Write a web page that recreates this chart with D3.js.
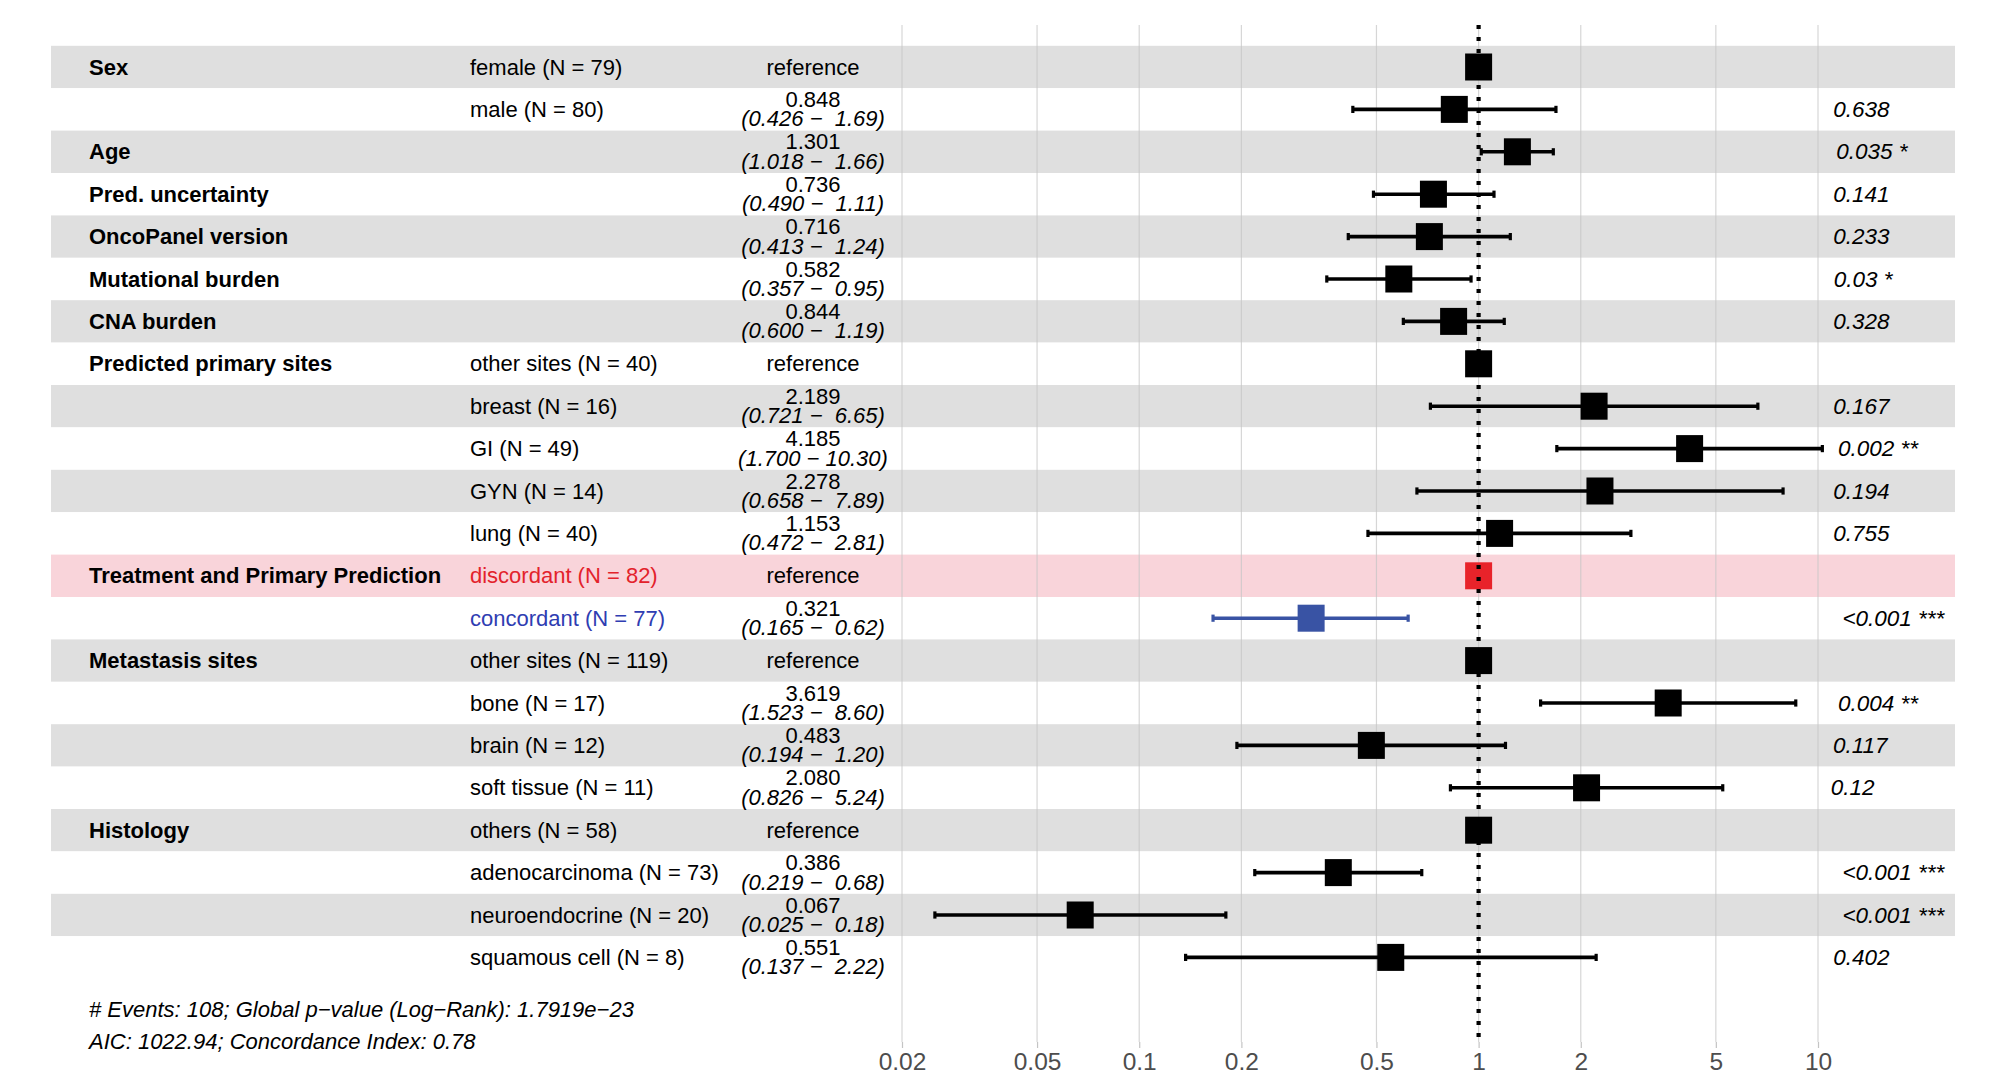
<!DOCTYPE html>
<html>
<head>
<meta charset="utf-8">
<script src="https://cdn.jsdelivr.net/npm/d3@7"></script>
<style>
  html, body { margin: 0; padding: 0; background: #ffffff; }
  svg text { font-family: "Liberation Sans", Arial, Helvetica, sans-serif; white-space: pre; }
</style>
</head>
<body>
<svg id="chart" width="1995" height="1076"></svg>
<script>
// Cox model hazard ratios, one entry per table row
const variables = ["Sex", "", "Age", "Pred. uncertainty", "OncoPanel version", "Mutational burden",
  "CNA burden", "Predicted primary sites", "", "", "", "", "Treatment and Primary Prediction", "",
  "Metastasis sites", "", "", "", "Histology", "", "", ""];
const levels = ["female (N = 79)", "male (N = 80)", "", "", "", "", "",
  "other sites (N = 40)", "breast (N = 16)", "GI (N = 49)", "GYN (N = 14)", "lung (N = 40)",
  "discordant (N = 82)", "concordant (N = 77)",
  "other sites (N = 119)", "bone (N = 17)", "brain (N = 12)", "soft tissue (N = 11)",
  "others (N = 58)", "adenocarcinoma (N = 73)", "neuroendocrine (N = 20)", "squamous cell (N = 8)"];
// null estimate marks a reference level (hazard ratio fixed at 1)
const estimates = [null, 0.848, 1.301, 0.736, 0.716, 0.582, 0.844,
  null, 2.189, 4.185, 2.278, 1.153,
  null, 0.321,
  null, 3.619, 0.483, 2.080,
  null, 0.386, 0.067, 0.551];
const ciLow = [null, 0.426, 1.018, 0.490, 0.413, 0.357, 0.600,
  null, 0.721, 1.700, 0.658, 0.472,
  null, 0.165,
  null, 1.523, 0.194, 0.826,
  null, 0.219, 0.025, 0.137];
const ciHigh = [null, 1.69, 1.66, 1.11, 1.24, 0.95, 1.19,
  null, 6.65, 10.30, 7.89, 2.81,
  null, 0.62,
  null, 8.60, 1.20, 5.24,
  null, 0.68, 0.18, 2.22];
const pValues = ["", "0.638", "0.035 *", "0.141", "0.233", "0.03 *", "0.328",
  "", "0.167", "0.002 **", "0.194", "0.755",
  "", "<0.001 ***",
  "", "0.004 **", "0.117", "0.12",
  "", "<0.001 ***", "<0.001 ***", "0.402"];
// highlighted rows: 0 = default, 1 = discordant, 2 = concordant
const highlight = [0,0,0,0,0,0,0, 0,0,0,0,0, 1,2, 0,0,0,0, 0,0,0,0];
const tickValues = [0.02, 0.05, 0.1, 0.2, 0.5, 1, 2, 5, 10];
const footerLines = ["# Events: 108; Global p\u2212value (Log\u2212Rank): 1.7919e\u221223",
  "AIC: 1022.94; Concordance Index: 0.78"];

const svg = d3.select("#chart");

const nRows = estimates.length;
const y = d3.scaleBand().domain(d3.range(nRows)).range([45.8, 45.8 + 42.4 * nRows]).padding(0);
const rowH = y.bandwidth();
const yc = i => y(i) + rowH / 2;
const x = d3.scaleLog().domain([0.02, 10]).range([902, 1818]);

const colVar = 89, colLevel = 470, colEst = 813, colP = 1822;
const plotTop = 25, plotBottom = 1042;

const markColor = ["#000000", "#e8232a", "#3953a4"];
const textColor = ["#000000", "#e3222b", "#2f3db2"];

// alternating row bands
svg.append("g").selectAll("rect").data(d3.range(nRows)).join("rect")
  .attr("x", 51).attr("width", 1955 - 51)
  .attr("y", i => y(i)).attr("height", rowH)
  .attr("fill", i => highlight[i] === 1 ? "#f9d4da" : (i % 2 === 0 ? "#dfdfdf" : "#ffffff"));

// vertical grid lines
svg.append("g").selectAll("line").data(tickValues).join("line")
  .attr("x1", d => x(d)).attr("x2", d => x(d))
  .attr("y1", plotTop).attr("y2", plotBottom)
  .attr("stroke", "#c4c4c4").attr("stroke-opacity", 0.7).attr("stroke-width", 1.2);

// x axis
const axis = svg.append("g").attr("transform", `translate(0,${plotBottom})`)
  .call(d3.axisBottom(x).tickValues(tickValues).tickFormat(d3.format("~g")).tickSize(6).tickPadding(5));
axis.select(".domain").remove();
axis.selectAll(".tick line").attr("stroke", "#c4c4c4").attr("stroke-width", 1.2);
axis.selectAll(".tick text").attr("font-size", 24.5).attr("fill", "#4d4d4d")
  .attr("font-family", "Liberation Sans, Arial, sans-serif");

// confidence interval bars
const bars = svg.append("g");
const ciRows = d3.range(nRows).filter(i => estimates[i] !== null);
bars.selectAll("line.ci").data(ciRows).join("line").attr("class", "ci")
  .attr("x1", i => x(ciLow[i])).attr("x2", i => x(ciHigh[i]))
  .attr("y1", yc).attr("y2", yc)
  .attr("stroke", i => markColor[highlight[i]]).attr("stroke-width", 3.6);
["low", "high"].forEach(side => {
  bars.selectAll("line.cap-" + side).data(ciRows).join("line").attr("class", "cap-" + side)
    .attr("x1", i => x(side === "low" ? ciLow[i] : ciHigh[i]))
    .attr("x2", i => x(side === "low" ? ciLow[i] : ciHigh[i]))
    .attr("y1", i => yc(i) - 3.6).attr("y2", i => yc(i) + 3.6)
    .attr("stroke", i => markColor[highlight[i]]).attr("stroke-width", 3.2);
});

// point estimates (reference levels sit at 1)
const sq = 27;
svg.append("g").selectAll("rect").data(d3.range(nRows)).join("rect")
  .attr("x", i => x(estimates[i] === null ? 1 : estimates[i]) - sq / 2)
  .attr("y", i => yc(i) - sq / 2)
  .attr("width", sq).attr("height", sq)
  .attr("fill", i => markColor[highlight[i]]);

// reference line at hazard ratio 1
svg.append("line")
  .attr("x1", x(1)).attr("x2", x(1)).attr("y1", plotTop).attr("y2", plotBottom)
  .attr("stroke", "#000").attr("stroke-width", 4.2).attr("stroke-dasharray", "4 8");

// table text
const txt = svg.append("g").attr("font-size", 22);
txt.selectAll("text.var").data(d3.range(nRows).filter(i => variables[i])).join("text")
  .attr("class", "var").attr("x", colVar).attr("y", yc)
  .attr("dominant-baseline", "central").attr("font-weight", "bold")
  .text(i => variables[i]);
txt.selectAll("text.lvl").data(d3.range(nRows).filter(i => levels[i])).join("text")
  .attr("class", "lvl").attr("x", colLevel).attr("y", yc)
  .attr("dominant-baseline", "central").attr("fill", i => textColor[highlight[i]])
  .text(i => levels[i]);

const refRows = d3.range(nRows).filter(i => estimates[i] === null);
txt.selectAll("text.ref").data(refRows).join("text")
  .attr("class", "ref").attr("x", colEst).attr("y", yc)
  .attr("text-anchor", "middle").attr("dominant-baseline", "central")
  .text("reference");
txt.selectAll("text.est").data(ciRows).join("text")
  .attr("class", "est").attr("x", colEst).attr("y", i => yc(i) - 10)
  .attr("text-anchor", "middle").attr("dominant-baseline", "central")
  .text(i => estimates[i].toFixed(3));
txt.selectAll("text.ci").data(ciRows).join("text")
  .attr("class", "ci").attr("x", colEst).attr("y", i => yc(i) + 9.5)
  .attr("text-anchor", "middle").attr("dominant-baseline", "central")
  .attr("font-style", "italic")
  .text(i => "(" + ciLow[i].toFixed(3) + " \u2212 " + ciHigh[i].toFixed(2).padStart(5, " ") + ")");

// p-values, nudged right by a fifth of their own width
txt.selectAll("text.p").data(d3.range(nRows).filter(i => pValues[i])).join("text")
  .attr("class", "p").attr("y", yc)
  .attr("dominant-baseline", "central").attr("font-style", "italic").attr("font-size", 22.5)
  .text(i => pValues[i])
  .attr("x", function() { return colP + 0.2 * this.getComputedTextLength(); });

// model summary
svg.append("g").selectAll("text").data(footerLines).join("text")
  .attr("x", colVar).attr("y", (d, i) => 1009 + i * 32)
  .attr("dominant-baseline", "central").attr("font-style", "italic").attr("font-size", 22)
  .text(d => d);
</script>
</body>
</html>
